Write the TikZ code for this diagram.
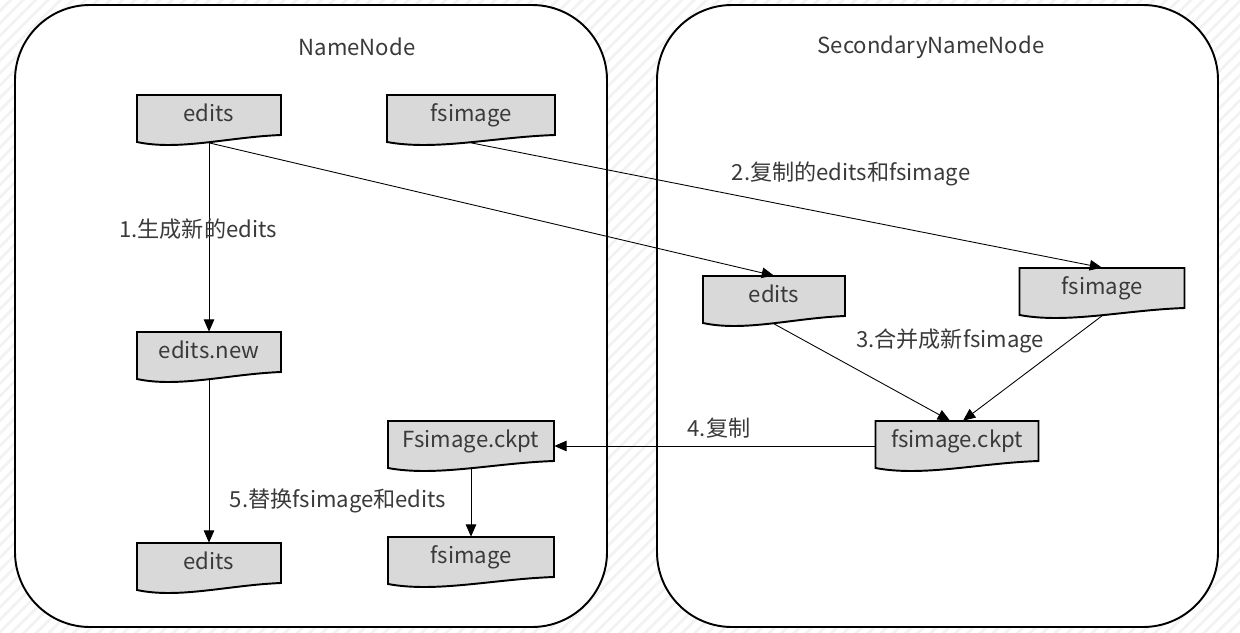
\documentclass[tikz,border=0pt]{standalone}
\usepackage{fontspec}
\setmainfont{Noto Sans CJK SC}
\usepackage{tikz}
\usetikzlibrary{arrows.meta,patterns.meta}

\definecolor{docgrey}{HTML}{D9D9D9}
\definecolor{txtgrey}{HTML}{3A3A3A}

\tikzset{
	box/.style={draw=black, line width=1.1pt, fill=white, rounded corners=1.5cm},
	docshape/.style={draw=black, line width=1.1pt, fill=docgrey},
	doclabel/.style={inner sep=0pt, minimum height=0.8cm, text height=1.8ex, text depth=0.35ex, text=txtgrey},
	flow/.style={-{Triangle[length=7pt,width=6pt]}, line width=0.5pt},
	steplabel/.style={text=txtgrey, inner sep=1pt}
}

% file symbol: grey box with a wavy bottom, name = #1
\newcommand{\docnode}[4]{%
	\draw[docshape, shift={(#2)}] (-#3/2,-20) -- (#3/2,-20) -- (#3/2,20)
		.. controls (0.14*#3,22) and (-0.21*#3,36) .. (-#3/2,27) -- cycle;
	\node[doclabel, minimum width=#3*0.02cm] (#1) at (#2) {#4};
	\coordinate (#1-w) at ([yshift=-0.15cm]#1.south);
}

\begin{document}
\begin{tikzpicture}[x=0.02cm, y=-0.02cm, font=\fontsize{12.6}{14}\selectfont]
	
	\useasboundingbox (0,0) rectangle (1240,632);
	\fill[white] (0,0) rectangle (1240,632);
	\fill[pattern={Lines[angle=45,distance=5pt,line width=1.5pt]}, pattern color=black!5] (0,0) rectangle (1240,632);
	
	% the two machines
	\draw[box] (15,5) rectangle (607,627);
	\draw[box] (657,5) rectangle (1218,627);
	\node[steplabel] (nn) at (357,47) {NameNode};
	\node[steplabel] (snn) at (931,47) {SecondaryNameNode};
	
	% files
	\docnode{editsA}{209,115}{144}{edits}
	\docnode{fsA}{471,115}{168}{fsimage}
	\docnode{editsNew}{209,352}{144}{edits.new}
	\docnode{editsB}{209,563}{144}{edits}
	\docnode{ckptA}{471,441}{166}{Fsimage.ckpt}
	\docnode{fsB}{471,557}{166}{fsimage}
	\docnode{editsS}{774,296}{142}{edits}
	\docnode{fsS}{1102,288}{165}{fsimage}
	\docnode{ckptS}{957,441}{163}{fsimage.ckpt}
	
	% steps
	\draw[flow] (editsA-w) -- (editsNew.north);
	\draw[flow] (editsA-w) -- (editsS.north);
	\draw[flow] (fsA-w) -- (fsS.north);
	\draw[flow] (editsS-w) -- ([xshift=-0.14cm]ckptS.north);
	\draw[flow] (fsS-w) -- ([xshift=0.12cm]ckptS.north);
	\draw[flow] ([yshift=-0.1cm]ckptS.west) -- ([yshift=-0.1cm]ckptA.east);
	\draw[flow] (ckptA-w) -- (fsB.north);
	\draw[flow] (editsNew-w) -- (editsB.north);
	
	\node[steplabel] (s1) at (198,229) {1.生成新的edits};
	\node[steplabel] (s2) at (851,174) {2.复制的edits和fsimage};
	\node[steplabel] (s3) at (950,341) {3.合并成新fsimage};
	\node[steplabel] (s4) at (719,428) {4.复制};
	\node[steplabel] (s5) at (338,501) {5.替换fsimage和edits};
	
\end{tikzpicture}
\end{document}
